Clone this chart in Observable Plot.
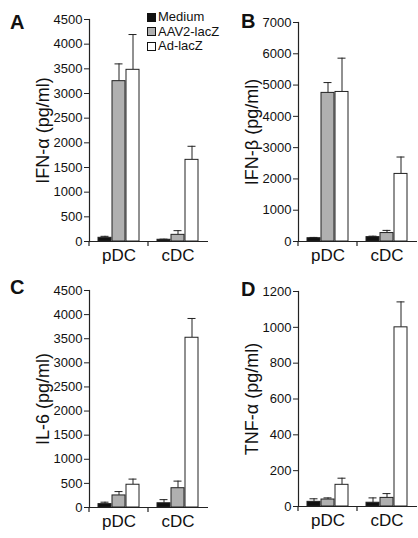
<!DOCTYPE html>
<html>
<head>
<meta charset="utf-8">
<script src="https://cdn.jsdelivr.net/npm/d3@7"></script>
<script src="https://cdn.jsdelivr.net/npm/@observablehq/plot@0.6"></script>
<style>
  html, body { margin: 0; padding: 0; background: #fff; }
  #root { position: relative; width: 418px; height: 538px; font-family: "Liberation Sans", Arial, Helvetica, sans-serif; color: #111; }
  .panel { position: absolute; width: 209px; height: 269px; }
  .letter { position: absolute; font-weight: bold; font-size: 20px; line-height: 1; }
  .legend { position: absolute; left: 147px; top: 10px; font-size: 13px; line-height: 14.5px; }
  .legend div { display: flex; align-items: center; white-space: nowrap; }
  .legend span.sw { display: inline-block; width: 7px; height: 7px; border: 1px solid #111; margin-right: 2px; }
</style>
</head>
<body>
<div id="root"></div>
<script>
// ---- data ----
const groups = ["pDC", "cDC"];
const treatments = ["Medium", "AAV2-lacZ", "Ad-lacZ"];
const treatmentColors = ["#111111", "#b0b0b0", "#ffffff"];

// values ordered: pDC (Medium, AAV2-lacZ, Ad-lacZ), cDC (Medium, AAV2-lacZ, Ad-lacZ)
const ifnAlphaMean = [75, 3250, 3480, 35, 135, 1655];
const ifnAlphaSD   = [30, 350, 715, 12, 85, 275];
const ifnBetaMean  = [105, 4750, 4780, 140, 270, 2160];
const ifnBetaSD    = [25, 330, 1080, 30, 85, 540];
const il6Mean      = [70, 250, 472, 88, 400, 3520];
const il6SD        = [40, 80, 117, 75, 147, 400];
const tnfMean      = [26, 39, 121, 21, 48, 1000];
const tnfSD        = [17, 9, 37, 27, 24, 142];

const ifnAlphaTicks = [0, 500, 1000, 1500, 2000, 2500, 3000, 3500, 4000, 4500];
const ifnBetaTicks  = [0, 1000, 2000, 3000, 4000, 5000, 6000, 7000];
const il6Ticks      = [0, 500, 1000, 1500, 2000, 2500, 3000, 3500, 4000, 4500];
const tnfTicks      = [0, 200, 400, 600, 800, 1000, 1200];

const panelLetters = ["A", "B", "C", "D"];
const yLabels = ["IFN-α (pg/ml)", "IFN-β (pg/ml)", "IL-6 (pg/ml)", "TNF-α (pg/ml)"];

function rows(means, sds) {
  const out = [];
  groups.forEach((g, gi) => treatments.forEach((t, ti) => {
    const k = gi * treatments.length + ti;
    out.push({group: g, treatment: t, ti, mean: means[k], upper: means[k] + sds[k]});
  }));
  return out;
}

const FONT = '"Liberation Sans", Arial, Helvetica, sans-serif';
const INK = "#222";

function panel({means, sds, ticks, label, marginTop, marginBottom}) {
  const data = rows(means, sds);
  const barW = 14;
  const marks = [];
  treatments.forEach((t, i) => {
    const sub = data.filter(d => d.treatment === t);
    marks.push(Plot.ruleX(sub, {x: "group", y1: "mean", y2: "upper", dx: (i - 1) * barW, stroke: INK, strokeWidth: 1}));
    marks.push(Plot.tickY(sub, {x: "group", y: "upper", insetLeft: i * barW + 2.5, insetRight: (2 - i) * barW + 2.5, stroke: INK, strokeWidth: 1}));
    marks.push(Plot.barY(sub, {x: "group", y: "mean", fill: "treatment", stroke: INK, strokeWidth: 1, insetLeft: i * barW, insetRight: (2 - i) * barW}));
  });
  // axes
  marks.push(Plot.ruleY([0], {stroke: INK, strokeWidth: 1.2, insetLeft: -2}));
  marks.push(Plot.frame({anchor: "left", stroke: INK, strokeWidth: 1.2}));
  marks.push(Plot.ruleX(groups, {x: d => d, y1: 0, y2: 0, dx: -30, insetBottom: -5, stroke: INK, strokeWidth: 1.2}));
  marks.push(Plot.axisY({ticks, tickFormat: d => String(d), tickSize: 5, tickPadding: 2, fontSize: 13, label: null, stroke: INK}));
  marks.push(Plot.axisX({tickSize: 0, tickPadding: 7, fontSize: 17, label: null}));
  marks.push(Plot.text([label], {text: d => d, frameAnchor: "left", textAnchor: "middle", lineAnchor: "middle", rotate: -90, dx: -46, dy: 0, fontSize: 18, fill: "#111"}));
  return Plot.plot({
    width: 209,
    height: 269,
    marginLeft: 89,
    marginRight: 1,
    marginTop,
    marginBottom,
    style: {fontFamily: FONT, color: "#111", background: "transparent", overflow: "visible"},
    x: {type: "band", domain: groups, paddingInner: 0.3, paddingOuter: 0.15, axis: null},
    y: {domain: [0, ticks[ticks.length - 1]], axis: null},
    color: {domain: treatments, range: treatmentColors},
    marks
  });
}

const root = document.getElementById("root");
const specs = [
  {means: ifnAlphaMean, sds: ifnAlphaSD, ticks: ifnAlphaTicks, marginTop: 19, marginBottom: 28, left: 0, top: 0, letterLeft: 10, letterTop: 12},
  {means: ifnBetaMean, sds: ifnBetaSD, ticks: ifnBetaTicks, marginTop: 22, marginBottom: 28, left: 209, top: 0, letterLeft: 241, letterTop: 11},
  {means: il6Mean, sds: il6SD, ticks: il6Ticks, marginTop: 21, marginBottom: 31, left: 0, top: 269, letterLeft: 10, letterTop: 277},
  {means: tnfMean, sds: tnfSD, ticks: tnfTicks, marginTop: 22, marginBottom: 32, left: 209, top: 269, letterLeft: 241, letterTop: 279}
];
specs.forEach((s, i) => {
  const div = document.createElement("div");
  div.className = "panel";
  div.style.left = s.left + "px";
  div.style.top = s.top + "px";
  div.appendChild(panel({...s, label: yLabels[i]}));
  root.appendChild(div);
  const L = document.createElement("div");
  L.className = "letter";
  L.style.left = s.letterLeft + "px";
  L.style.top = s.letterTop + "px";
  L.textContent = panelLetters[i];
  root.appendChild(L);
});

// legend
const leg = document.createElement("div");
leg.className = "legend";
treatments.forEach((t, i) => {
  const row = document.createElement("div");
  const sw = document.createElement("span");
  sw.className = "sw";
  sw.style.background = treatmentColors[i];
  row.appendChild(sw);
  row.appendChild(document.createTextNode(t));
  leg.appendChild(row);
});
root.appendChild(leg);
</script>
</body>
</html>
